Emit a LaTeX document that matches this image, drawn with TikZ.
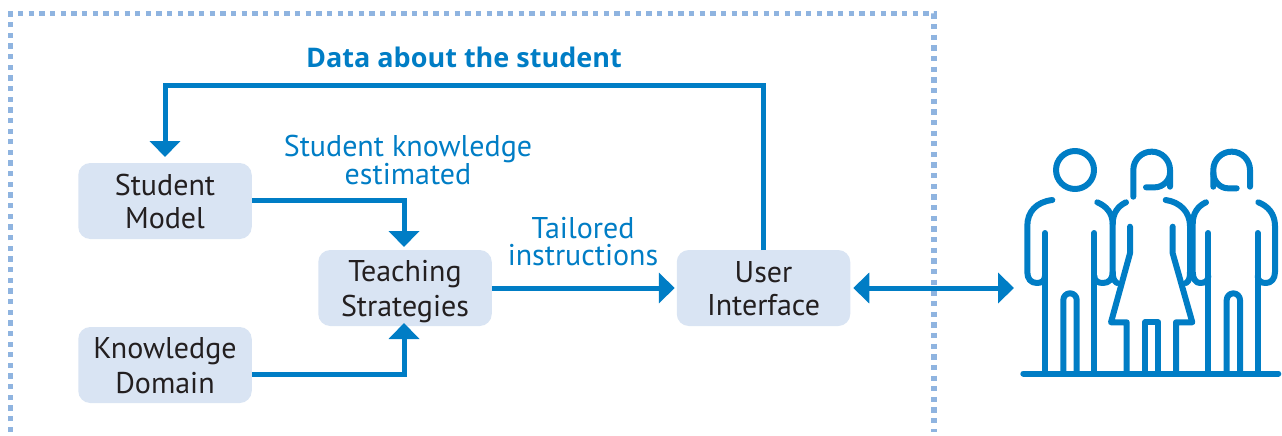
\documentclass[tikz,border=0pt]{standalone}
\usepackage{fontspec}
\setmainfont{PT Sans}
\newfontfamily\titlefont{Open Sans}
\usetikzlibrary{arrows.meta}
\definecolor{flow}{HTML}{007DC5}
\definecolor{boxfill}{HTML}{D9E4F3}
\definecolor{frame}{HTML}{8FB4E0}
\definecolor{ink}{HTML}{231F20}
\newcommand{\lstrut}{\rule[-5.3pt]{0pt}{33pt}}
\tikzset{
  modbox/.style={fill=boxfill,rounded corners=12pt,minimum width=173.5pt,minimum height=76pt,inner sep=0pt,outer sep=0pt,align=center,text=ink,font=\fontsize{30}{33}\selectfont},
  flowlabel/.style={text=flow,align=center,inner sep=0pt,font=\fontsize{30}{27}\selectfont},
  link/.style={draw=flow,line width=5pt,-{Triangle[length=16pt,width=30pt]}},
  biglink/.style={draw=flow,line width=5pt,{Triangle[length=16pt,width=30pt]}-{Triangle[length=16pt,width=30pt]}},
  dotframe/.style={draw=frame,line width=5.3pt,dash pattern=on 5.3pt off 5.35pt},
  figure/.style={draw=flow,line width=6pt,line cap=round,line join=round}
}
\begin{document}
\begin{tikzpicture}[x=1pt,y=-1pt]
\useasboundingbox (0,0) rectangle (1282,436);
\coordinate (fa) at (10.5,432);
\coordinate (fb) at (10.5,13.5);
\coordinate (fc) at (934,13.5);
\coordinate (fd) at (934,432);
\draw[dotframe] (fa) -- (fb) -- (fc) -- (fd);

\node[modbox] (student) at (165,201) {\lstrut Student\\\lstrut Model};
\node[modbox] (teach) at (405,288) {\lstrut Teaching\\\lstrut Strategies};
\node[modbox] (domain) at (165,365) {\lstrut Knowledge\\\lstrut Domain};
\node[modbox] (ui) at (763.5,288) {\lstrut User\\\lstrut Interface};
\coordinate (people) at (1014,288);
\coordinate (tin) at ([xshift=-1pt]teach.north);
\coordinate (tis) at ([xshift=-1pt]teach.south);
\coordinate (uin) at ([xshift=-0.5pt]ui.north);

\draw[link,shorten >=6pt] (uin) -- (uin |- 0,85) -- (student.north |- 0,85) -- (student.north);
\draw[link,shorten >=3pt] (student.east |- 0,200) -- (tin |- 0,200) -- (tin);
\draw[link,shorten >=-3pt] (domain.east |- 0,374) -- (tis |- 0,374) -- (tis);
\draw[link,shorten >=2pt] (teach.east) -- (ui.west);
\draw[biglink,shorten <=3pt] (ui.east) -- (people);

\node[flowlabel,font=\titlefont\fontsize{27}{27}\selectfont\bfseries] (ldata) at (464,57) {Data about the student};
\node[flowlabel] (lest) at (408,160) {Student knowledge\\estimated};
\node[flowlabel] (ltail) at (583,242) {Tailored\\instructions};

% left man
\draw[figure] (1075,170) circle (19);
\draw[figure] (1052.3,200) .. controls (1036,202) and (1027.3,212) .. (1027.3,226) -- (1027.3,272) .. controls (1027.3,279) and (1031,283) .. (1037,283) .. controls (1041,283) and (1045,281) .. (1045,276);
\draw[figure] (1045,233) -- (1045,372);
\draw[figure] (1094.3,233) -- (1094.3,372);
\draw[figure] (1063.3,372) -- (1063.3,300) arc[start angle=180,end angle=360,radius=6.7] -- (1076.7,372);
\draw[figure] (1097.3,202.3) .. controls (1106,206) and (1112.7,213) .. (1112.7,224) -- (1112.7,272) .. controls (1112.7,279) and (1109,283) .. (1103,283) .. controls (1098,283) and (1094.3,281) .. (1094.3,276);
% woman
\draw[figure] (1133.3,196.7) -- (1133.3,170) arc[start angle=180,end angle=360,radius=18.35] -- (1170,186.7);
\draw[figure] (1146,187.3) -- (1155,187.3) .. controls (1163,187.3) and (1170,180) .. (1170,173);
\draw[figure] (1126,202.3) .. controls (1118,206) and (1112.7,213) .. (1112.7,224);
\draw[figure] (1165.7,200) .. controls (1180,202) and (1190,212) .. (1190,226) -- (1190,272) .. controls (1190,278) and (1189,281) .. (1186,283);
\draw[figure] (1130,226.7) -- (1130,253.3) -- (1111,322.3) -- (1126.7,322.3) -- (1126.7,372);
\draw[figure] (1172.7,226.7) -- (1172.7,253.3) -- (1192.3,322.3) -- (1176,322.3) -- (1176,372);
\draw[figure] (1145,372) -- (1145,322.3) -- (1158.3,322.3) -- (1158.3,372);
\draw[figure] (1112.7,272) .. controls (1112.7,278) and (1114,281) .. (1117,283);
% right man
\draw[figure] (1213.3,186.7) -- (1213.3,170) arc[start angle=180,end angle=360,radius=18.35] -- (1250,186.7);
\draw[figure] (1236.7,188.3) -- (1228,188.3) .. controls (1220,188.3) and (1213.3,181) .. (1213.3,173);
\draw[figure] (1206,202.3) .. controls (1198,206) and (1192.7,213) .. (1192.7,224) -- (1192.7,272) .. controls (1192.7,279) and (1196,283) .. (1200,283) .. controls (1205,283) and (1208.3,281) .. (1208.3,276);
\draw[figure] (1208.3,233) -- (1208.3,372);
\draw[figure] (1257.7,233) -- (1257.7,372);
\draw[figure] (1226.7,372) -- (1226.7,300) arc[start angle=180,end angle=360,radius=6.65] -- (1240,372);
\draw[figure] (1258.3,202.3) .. controls (1268,206) and (1275,214) .. (1275,226) -- (1275,272) .. controls (1275,279) and (1271,283) .. (1266,283) .. controls (1261,283) and (1257.7,281) .. (1257.7,276);
\draw[figure] (1023.3,373.5) -- (1278.3,373.5);
\end{tikzpicture}
\end{document}
